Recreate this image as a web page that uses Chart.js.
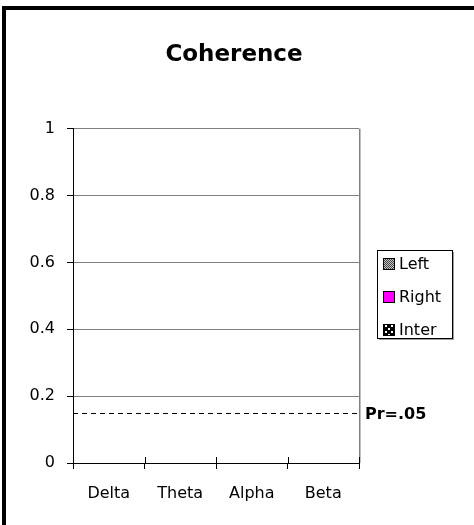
<!DOCTYPE html>
<html lang="en">
<head>
    <meta charset="UTF-8">
    <title>Coherence</title>
    <style>
        body {
            margin: 0;
            padding: 0;
            background-color: #fff;
        }
        #chart {
            display: block;
        }
    </style>
</head>
<body>
    <canvas id="chart" width="474" height="525"></canvas>

    <script src="https://cdn.jsdelivr.net/npm/chart.js"></script>
    <script>
        // Data
        const categories = ['Delta', 'Theta', 'Alpha', 'Beta'];
        const seriesNames = ['Left', 'Right', 'Inter'];
        const leftValues = [0, 0, 0, 0];
        const rightValues = [0, 0, 0, 0];
        const interValues = [0, 0, 0, 0];
        const yTickValues = [0, 0.2, 0.4, 0.6, 0.8, 1];
        const thresholdValue = 0.15;
        const thresholdLabel = 'Pr=.05';

        const FONT = 'DejaVu Sans';
        Chart.defaults.font.family = FONT;
        Chart.defaults.color = '#000';

        // Fill patterns for the legend swatches
        function makePattern(size, draw) {
            const c = document.createElement('canvas');
            c.width = size;
            c.height = size;
            draw(c.getContext('2d'));
            return c.getContext('2d').createPattern(c, 'repeat');
        }
        const leftFill = makePattern(2, g => {
            g.fillStyle = '#c8c8c8'; g.fillRect(0, 0, 2, 2);
            g.fillStyle = '#404040'; g.fillRect(0, 0, 1, 1); g.fillRect(1, 1, 1, 1);
        });
        const rightFill = '#ff00ff';
        const interFill = makePattern(6, g => {
            g.fillStyle = '#000'; g.fillRect(0, 0, 6, 6);
            g.fillStyle = '#fff'; g.fillRect(1, 1, 2, 2); g.fillRect(4, 4, 2, 2);
        });
        const fills = [leftFill, rightFill, interFill];

        // Frame, plot border, threshold line and legend
        const extras = {
            id: 'extras',
            beforeDraw(chart) {
                const g = chart.ctx;
                g.save();
                g.fillStyle = '#fff';
                g.fillRect(0, 0, chart.width, chart.height);
                g.fillStyle = '#000';
                g.fillRect(2, 6, chart.width - 2, 4);
                g.fillRect(2, 6, 4, chart.height - 6);
                g.restore();
            },
            afterDraw(chart) {
                const g = chart.ctx;
                const a = chart.chartArea;
                const y = chart.scales.y;
                g.save();

                // right edge of plot area
                g.lineWidth = 1;
                g.strokeStyle = '#808080';
                g.beginPath();
                g.moveTo(Math.round(a.right) + 0.5, a.top);
                g.lineTo(Math.round(a.right) + 0.5, a.bottom);
                g.stroke();
                g.strokeStyle = '#c0c0c0';
                g.beginPath();
                g.moveTo(Math.round(a.right) + 1.5, a.top);
                g.lineTo(Math.round(a.right) + 1.5, a.bottom);
                g.stroke();

                // category tick marks cross the axis
                g.strokeStyle = '#000';
                const n = chart.data.labels.length;
                for (let i = 0; i <= n; i++) {
                    const px = Math.round(a.left + i * (a.right - a.left) / n) + 0.5;
                    g.beginPath();
                    g.moveTo(px, a.bottom - 6);
                    g.lineTo(px, a.bottom);
                    g.stroke();
                }

                // threshold
                const ty = Math.round(y.getPixelForValue(thresholdValue)) + 0.5;
                g.setLineDash([5, 4]);
                g.beginPath();
                g.moveTo(a.left, ty);
                g.lineTo(a.right, ty);
                g.stroke();
                g.setLineDash([]);
                g.font = 'bold 16px ' + FONT;
                g.textBaseline = 'middle';
                g.textAlign = 'left';
                g.fillStyle = '#000';
                g.fillText(thresholdLabel, a.right + 6, ty + 1);

                // legend
                const lx = a.right + 18, ly = 250, lw = 75, lh = 88;
                g.fillStyle = '#a0a0a0';
                g.fillRect(lx + 2, ly + lh, lw, 2);
                g.fillRect(lx + lw, ly + 2, 2, lh);
                g.fillStyle = '#fff';
                g.fillRect(lx, ly, lw, lh);
                g.strokeStyle = '#000';
                g.strokeRect(lx + 0.5, ly + 0.5, lw, lh);
                g.font = '16px ' + FONT;
                chart.data.datasets.forEach((ds, i) => {
                    const cy = ly + 14 + i * 33;
                    g.fillStyle = fills[i];
                    g.fillRect(lx + 6, cy - 6, 12, 12);
                    g.strokeStyle = '#000';
                    g.strokeRect(lx + 6.5, cy - 5.5, 11, 11);
                    g.fillStyle = '#000';
                    g.fillText(ds.label, lx + 22, cy + 1);
                });
                g.restore();
            }
        };

        new Chart(document.getElementById('chart'), {
            type: 'bar',
            data: {
                labels: categories,
                datasets: [
                    { label: seriesNames[0], data: leftValues, backgroundColor: leftFill, borderColor: '#000', borderWidth: 1 },
                    { label: seriesNames[1], data: rightValues, backgroundColor: rightFill, borderColor: '#000', borderWidth: 1 },
                    { label: seriesNames[2], data: interValues, backgroundColor: interFill, borderColor: '#000', borderWidth: 1 }
                ]
            },
            options: {
                responsive: false,
                animation: false,
                devicePixelRatio: 1,
                layout: { padding: { left: 0, right: 6, top: 0, bottom: 0 } },
                plugins: {
                    legend: { display: false },
                    tooltip: { enabled: false },
                    title: {
                        display: true,
                        text: 'Coherence',
                        font: { size: 23, weight: 'bold' },
                        padding: { top: 41, bottom: 60 }
                    }
                },
                scales: {
                    x: {
                        offset: true,
                        grid: { drawOnChartArea: false, offset: true, tickColor: '#000', tickLength: 6 },
                        border: { color: '#000' },
                        ticks: { font: { size: 16 }, padding: 15, maxRotation: 0 },
                        afterFit: s => { s.height = 62; }
                    },
                    y: {
                        min: 0,
                        max: 1,
                        afterBuildTicks: s => { s.ticks = yTickValues.map(v => ({ value: v })); },
                        grid: {
                            color: c => (c.tick && c.tick.value === 0 ? '#000' : '#808080'),
                            tickColor: '#000',
                            tickLength: 6
                        },
                        border: { color: '#000' },
                        ticks: { font: { size: 16 }, padding: 12, callback: v => String(v) },
                        afterFit: s => { s.width = 73; }
                    },
                    yR: {
                        position: 'right',
                        display: true,
                        grid: { display: false },
                        border: { display: false },
                        ticks: { display: false },
                        afterFit: s => { s.width = 109; }
                    }
                }
            },
            plugins: [extras]
        });
    </script>
</body>
</html>
